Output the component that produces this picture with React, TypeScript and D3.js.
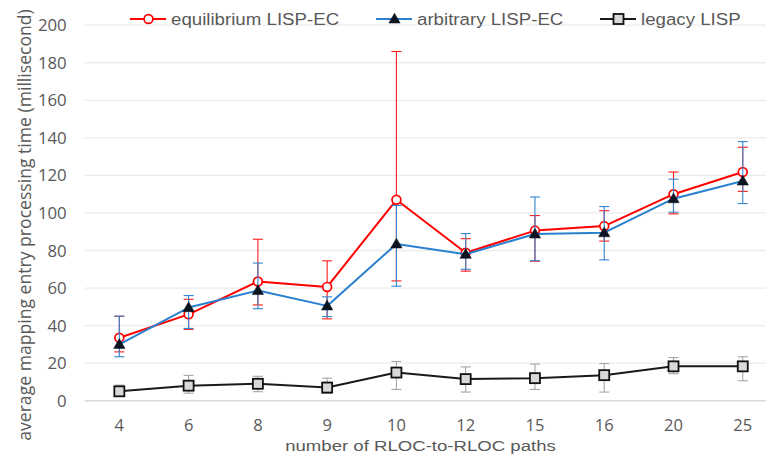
import React from "react";
import * as d3 from "d3";

const W = 766;
const H = 467;

const categories = ["4", "6", "8", "9", "10", "12", "15", "16", "20", "25"];
const yTicks = [0, 20, 40, 60, 80, 100, 120, 140, 160, 180, 200];

// equilibrium LISP-EC: mean and error-bar bounds
const eqMean = [33.5, 46, 63.5, 60.6, 107, 78.8, 90.6, 93, 110, 121.8];
const eqHigh = [45, 54, 86, 74.5, 186, 86.3, 98.6, 101.2, 121.8, 135];
const eqLow = [26, 38, 51, 43.6, 63.8, 69, 74.3, 85, 99.5, 111.5];

// arbitrary LISP-EC
const arMean = [30, 49.6, 58.7, 50.5, 83.5, 78, 88.8, 89.5, 107.6, 117];
const arHigh = [45, 56, 73.3, 55.3, 104, 89, 108.5, 103.4, 118, 138];
const arLow = [23.4, 38.5, 49, 44.8, 61, 70, 74.6, 75, 100.4, 105];

// legacy LISP
const lgMean = [5, 8, 9, 7, 15, 11.5, 12, 13.6, 18.3, 18.3];
const lgHigh = [8.3, 13.5, 13, 12, 20.9, 18, 19.5, 19.8, 23, 23.4];
const lgLow = [3, 4, 4.8, 3.9, 6, 4.6, 6, 4.6, 14.4, 10.6];

const seriesNames = ["equilibrium LISP-EC", "arbitrary LISP-EC", "legacy LISP"];

const plotLeft = 84.7;
const plotRight = 777.4;
const plotTop = 25.2;
const plotBottom = 400.7;

const x = d3.scaleBand<string>().domain(categories).range([plotLeft, plotRight]);
const cx = (c: string) => (x(c) as number) + x.bandwidth() / 2;
const y = d3.scaleLinear().domain([0, 200]).range([plotBottom, plotTop]);

type Marker = "circle" | "triangle" | "square";

interface Series {
  name: string;
  mean: number[];
  high: number[];
  low: number[];
  color: string;
  errColor: string;
  marker: Marker;
}

const series: Series[] = [
  { name: seriesNames[0], mean: eqMean, high: eqHigh, low: eqLow, color: "#ff0000", errColor: "#ff1a1a", marker: "circle" },
  { name: seriesNames[1], mean: arMean, high: arHigh, low: arLow, color: "#2a80cf", errColor: "#3385d1", marker: "triangle" },
  { name: seriesNames[2], mean: lgMean, high: lgHigh, low: lgLow, color: "#1a1a1a", errColor: "#a6a6a6", marker: "square" },
];

const tickFont = "'Open Sans', 'Noto Sans', sans-serif";
const labelFont = "'Liberation Sans', Arial, sans-serif";
const textColor = "#595959";

function MarkerShape({ kind, px, py, color }: { kind: Marker; px: number; py: number; color: string }) {
  if (kind === "circle") {
    return <circle cx={px} cy={py} r={4.4} fill="#ffffff" stroke={color} strokeWidth={1.7} />;
  }
  if (kind === "triangle") {
    const tri = d3.symbol().type(d3.symbolTriangle).size(56)();
    return <path d={tri as string} transform={`translate(${px},${py + 0.8})`} fill="#0b1420" stroke="#0b1420" strokeWidth={0.5} />;
  }
  const s = 10;
  return <rect x={px - s / 2} y={py - s / 2} width={s} height={s} fill="#d9d9d9" stroke="#111111" strokeWidth={1.8} />;
}

export default function App() {
  const line = d3
    .line<number>()
    .x((_, i) => cx(categories[i]))
    .y((d) => y(d));

  const cap = 5;

  const legendItems = [
    { s: series[0], x0: 130 },
    { s: series[1], x0: 376 },
    { s: series[2], x0: 600 },
  ];

  // wide-set label text: smaller glyph height, stretched horizontally
  const wide = 1.2;
  const titleX = 420.5;

  return (
    <svg
      width={W}
      height={H}
      viewBox={`0 0 ${W} ${H}`}
      style={{ position: "absolute", left: 0, top: 0, display: "block", background: "#ffffff" }}
    >
      <rect x={0} y={0} width={W} height={H} fill="#ffffff" />

      {/* horizontal gridlines */}
      {yTicks.map((t) => (
        <line
          key={`g${t}`}
          x1={plotLeft}
          x2={plotRight}
          y1={y(t)}
          y2={y(t)}
          stroke={t === 0 ? "#d9d9d9" : "#ececec"}
          strokeWidth={t === 0 ? 1.5 : 1.3}
        />
      ))}

      {/* y tick labels */}
      {yTicks.map((t) => (
        <text
          key={`yt${t}`}
          x={66.7}
          y={y(t)}
          dy="0.36em"
          textAnchor="end"
          fontFamily={tickFont}
          fontSize={16.8}
          fill={textColor}
        >
          {t}
        </text>
      ))}

      {/* x tick labels */}
      {categories.map((c) => (
        <text
          key={`xt${c}`}
          x={cx(c)}
          y={425.5}
          dy="0.36em"
          textAnchor="middle"
          fontFamily={tickFont}
          fontSize={16.5}
          fill={textColor}
        >
          {c}
        </text>
      ))}

      {/* axis titles */}
      <text
        transform={`translate(${titleX}, 451) scale(${wide}, 1)`}
        textAnchor="middle"
        fontFamily={labelFont}
        fontSize={15.5}
        fill={textColor}
      >
        number of RLOC-to-RLOC paths
      </text>
      <text
        transform={`translate(30.5, ${225}) rotate(-90)`}
        textAnchor="middle"
        fontFamily={tickFont}
        fontSize={17.6}
        fill={textColor}
      >
        average mapping entry processing time (millisecond)
      </text>

      {/* series: error bars, line, markers */}
      {series.map((s) => (
        <g key={s.name}>
          {s.mean.map((_, i) => {
            const px = cx(categories[i]);
            const yh = y(s.high[i]);
            const yl = y(s.low[i]);
            return (
              <g key={`e${i}`} stroke={s.errColor} strokeWidth={1.1}>
                <line x1={px} x2={px} y1={yh} y2={yl} />
                <line x1={px - cap} x2={px + cap} y1={yh} y2={yh} />
                <line x1={px - cap} x2={px + cap} y1={yl} y2={yl} />
              </g>
            );
          })}
          <path d={line(s.mean) as string} fill="none" stroke={s.color} strokeWidth={2} strokeLinejoin="round" />
          {s.mean.map((v, i) => (
            <MarkerShape key={`m${i}`} kind={s.marker} px={cx(categories[i])} py={y(v)} color={s.color} />
          ))}
        </g>
      ))}

      {/* legend */}
      {legendItems.map(({ s, x0 }) => (
        <g key={`lg${s.name}`}>
          <line x1={x0} x2={x0 + 36} y1={19} y2={19} stroke={s.color} strokeWidth={2} />
          <MarkerShape kind={s.marker} px={x0 + 18.5} py={19} color={s.color} />
          <text
            transform={`translate(${x0 + 41}, 25) scale(${1.08}, 1)`}
            fontFamily={labelFont}
            fontSize={17.3}
            fill={textColor}
          >
            {s.name}
          </text>
        </g>
      ))}
    </svg>
  );
}
